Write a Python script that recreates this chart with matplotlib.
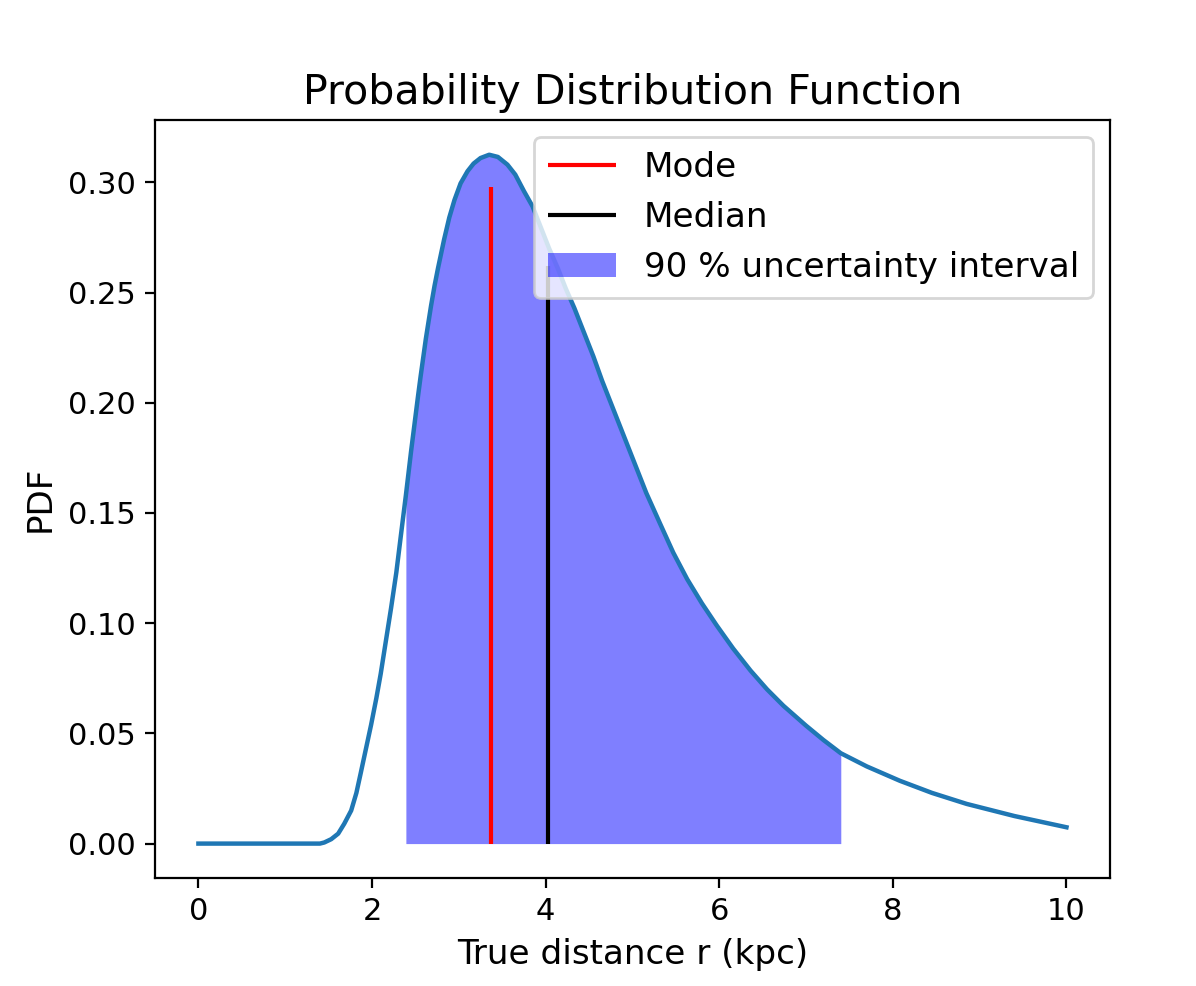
import numpy as np
import matplotlib
matplotlib.use("Agg")
import matplotlib.pyplot as plt

# Curve values
r_vals = [0.0, 1.0, 1.40, 1.45, 1.53, 1.61, 1.68, 1.76, 1.82, 1.87, 1.93, 1.99, 2.05, 2.10,
          2.16, 2.22, 2.28, 2.33, 2.39, 2.45, 2.53, 2.56, 2.62, 2.68, 2.72, 2.76, 2.83,
          2.89, 2.95, 3.02, 3.10, 3.17, 3.25, 3.35, 3.45, 3.56, 3.65, 3.75, 3.85, 3.94,
          4.04, 4.14, 4.23, 4.33, 4.44, 4.55, 4.65, 4.75, 4.88, 5.01, 5.16, 5.32, 5.47,
          5.63, 5.80, 5.97, 6.16, 6.36, 6.55, 6.74, 7.00, 7.20, 7.40, 7.70, 8.08, 8.45,
          8.85, 9.40, 10.0]
pdf_vals = [0.0, 0.0, 0.0, 0.0005, 0.002, 0.0045, 0.009, 0.015, 0.023, 0.032, 0.043, 0.054,
            0.066, 0.077, 0.092, 0.107, 0.123, 0.139, 0.158, 0.178, 0.203, 0.212, 0.229,
            0.244, 0.253, 0.261, 0.274, 0.284, 0.292, 0.2995, 0.305, 0.3085, 0.311, 0.3125,
            0.3115, 0.308, 0.3035, 0.296, 0.289, 0.280, 0.270, 0.261, 0.252, 0.243, 0.232,
            0.221, 0.210, 0.200, 0.187, 0.174, 0.159, 0.145, 0.132, 0.120, 0.109, 0.099,
            0.0885, 0.0785, 0.070, 0.0625, 0.0535, 0.047, 0.041, 0.035, 0.0285, 0.023, 0.018,
            0.0125, 0.0074]

mode_r, mode_top = 3.37, 0.298
median_r, median_top = 4.03, 0.262
interval_lo, interval_hi = 2.39, 7.40

r = np.array(r_vals)
p = np.array(pdf_vals)

fig = plt.figure(figsize=(5.98, 4.93), dpi=200)
ax = fig.add_axes([0.1296, 0.1095, 0.7984, 0.7685])

ax.plot(r, p, color="C0", lw=1.6)
ax.vlines(mode_r, 0, mode_top, color="red", lw=1.5, label="Mode")
ax.vlines(median_r, 0, median_top, color="black", lw=1.5, label="Median")
mask = (r >= interval_lo) & (r <= interval_hi)
ax.fill_between(r[mask], 0, p[mask], color="blue", alpha=0.5, lw=0,
                label="90 % uncertainty interval")

ax.set_title("Probability Distribution Function", fontsize=14.8)
ax.set_xlabel("True distance r (kpc)", fontsize=12.3)
ax.set_ylabel("PDF", fontsize=12.3)
ax.tick_params(labelsize=11)
ax.legend(loc="upper right", fontsize=12.3)

fig.savefig("out.png", dpi=200)
